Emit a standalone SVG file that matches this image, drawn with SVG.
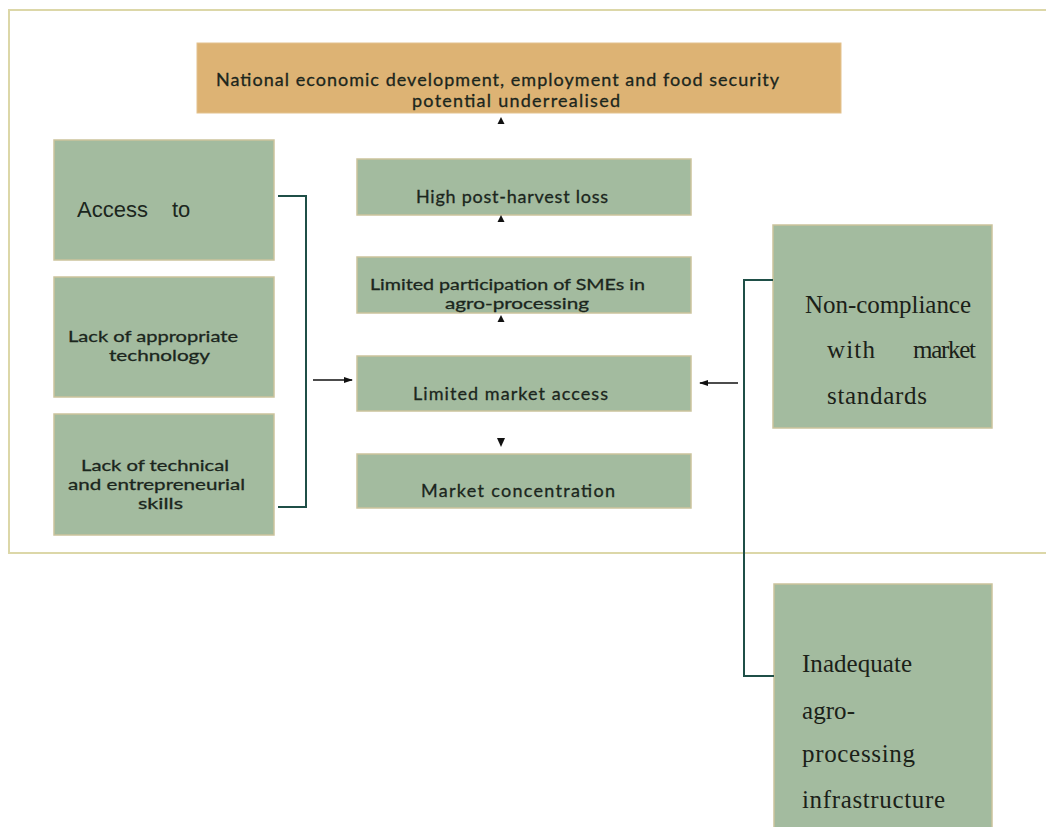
<svg xmlns="http://www.w3.org/2000/svg" width="1046" height="827" viewBox="0 0 1046 827">
<style>
.frame{fill:none;stroke:#dcd7a8;stroke-width:2}
.g{fill:#a3bb9f;stroke:#cbc39c;stroke-width:1.5}
.o{fill:#ddb374;stroke:#e3c28e;stroke-width:1}
.c{font-family:Lato,"Liberation Sans",sans-serif;font-size:18px;fill:#1b261d;stroke:#1b261d;stroke-width:0.3}
.m{font-size:16px}
.a{font-family:"Liberation Sans",Arial,sans-serif;font-size:22px;fill:#1b261d}
.s{font-family:"Liberation Serif","Times New Roman",serif;font-size:25px;fill:#1b2118}
.br{fill:none;stroke:#1f4f47;stroke-width:2}
.ar{fill:none;stroke:#111;stroke-width:1.5}
.ah{fill:#111}
</style>
<defs>
<marker id="arr" markerUnits="userSpaceOnUse" markerWidth="9" markerHeight="7" refX="8" refY="3.5" orient="auto">
<path d="M0,0.5 L9,3.5 L0,6.5 z" fill="#111"/>
</marker>
</defs>
<rect width="1046" height="827" fill="#ffffff"/>
<path class="frame" d="M1047,10 H9 V553 H1047"/>

<g id="n-national">
<rect class="o" x="197" y="43" width="644" height="70"/>
<text class="c" x="216" y="86" textLength="563">National economic development, employment and food security</text>
<text class="c" x="412" y="107" textLength="208">potential underrealised</text>
</g>

<g id="n-access">
<rect class="g" x="54" y="140" width="220" height="120"/>
<text class="a" x="77" y="217">Access</text>
<text class="a" x="172" y="217">to</text>
</g>

<g id="n-technology">
<rect class="g" x="54" y="277" width="220" height="120"/>
<text class="c m" x="68" y="342" textLength="170" lengthAdjust="spacingAndGlyphs">Lack of appropriate</text>
<text class="c m" x="109" y="361" textLength="101" lengthAdjust="spacingAndGlyphs">technology</text>
</g>

<g id="n-skills">
<rect class="g" x="54" y="414" width="220" height="121"/>
<text class="c m" x="81" y="471" textLength="148" lengthAdjust="spacingAndGlyphs">Lack of technical</text>
<text class="c m" x="68" y="490" textLength="177" lengthAdjust="spacingAndGlyphs">and entrepreneurial</text>
<text class="c m" x="138" y="509" textLength="45" lengthAdjust="spacingAndGlyphs">skills</text>
</g>

<g id="n-postharvest">
<rect class="g" x="357" y="159" width="334" height="56"/>
<text class="c" x="416" y="203" textLength="192">High post-harvest loss</text>
</g>

<g id="n-smes">
<rect class="g" x="357" y="257" width="334" height="56"/>
<text class="c m" x="370" y="290" textLength="275" lengthAdjust="spacingAndGlyphs">Limited participation of SMEs in</text>
<text class="c m" x="445" y="309" textLength="144" lengthAdjust="spacingAndGlyphs">agro-processing</text>
</g>

<g id="n-market-access">
<rect class="g" x="357" y="356" width="334" height="55"/>
<text class="c" x="413" y="400" textLength="195">Limited market access</text>
</g>

<g id="n-concentration">
<rect class="g" x="357" y="454" width="334" height="54"/>
<text class="c" x="421" y="497" textLength="194">Market concentration</text>
</g>

<g id="n-noncompliance">
<rect class="g" x="773" y="225" width="219" height="203"/>
<text class="s" x="805" y="313" textLength="166">Non-compliance</text>
<text class="s" x="827" y="358" textLength="48">with</text>
<text class="s" x="913" y="358" textLength="63">market</text>
<text class="s" x="827" y="404" textLength="100">standards</text>
</g>

<g id="n-infrastructure">
<rect class="g" x="774" y="584" width="218" height="250"/>
<text class="s" x="802" y="672" textLength="110">Inadequate</text>
<text class="s" x="802" y="719" textLength="53">agro-</text>
<text class="s" x="802" y="762" textLength="113">processing</text>
<text class="s" x="802" y="808" textLength="143">infrastructure</text>
</g>

<g id="connectors">
<path class="br" d="M278,196 H306 V507 H278"/>
<path class="br" stroke-width="1.5" d="M773,280 H744 V676 H774"/>
<line class="ar" x1="313" y1="380" x2="352" y2="380" marker-end="url(#arr)"/>
<line class="ar" x1="738" y1="383" x2="700" y2="383" marker-end="url(#arr)"/>
<polygon class="ah" points="497.5,124 501,117 504.5,124"/>
<polygon class="ah" points="497.5,222 501,215 504.5,222"/>
<polygon class="ah" points="497.5,322 501,315 504.5,322"/>
<polygon class="ah" points="497,438 505,438 501,447"/>
</g>
</svg>
